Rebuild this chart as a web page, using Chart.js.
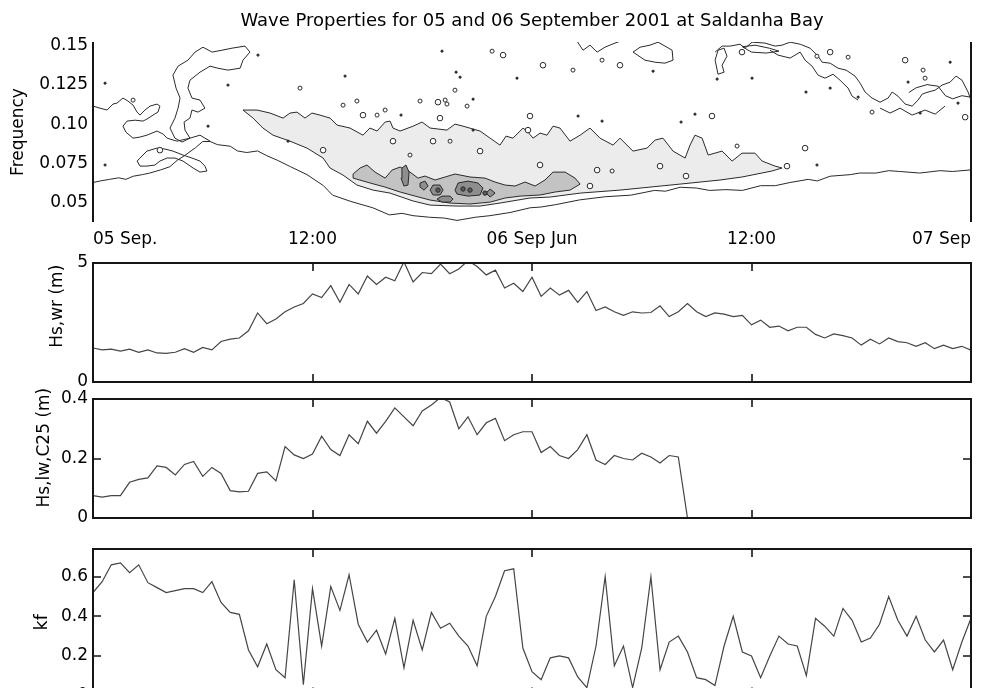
<!DOCTYPE html>
<html><head><meta charset="utf-8">
<script src="https://cdn.jsdelivr.net/npm/chart.js@4.4.1/dist/chart.umd.min.js"></script>
<style>
html,body{margin:0;padding:0;background:#fff;width:989px;height:688px;overflow:hidden;position:relative}
canvas{position:absolute;left:0}
</style></head><body>
<canvas id="c1" width="989" height="250" style="top:0px"></canvas>
<canvas id="c2" width="989" height="140" style="top:250px"></canvas>
<canvas id="c3" width="989" height="150" style="top:375px"></canvas>
<canvas id="c4" width="989" height="200" style="top:525px"></canvas>
<script>
// ---------------- data ----------------
const titleText = 'Wave Properties for 05 and 06 September 2001 at Saldanha Bay';
const timeTickHours = [0, 12, 24, 36, 48];
const timeTickLabels = ['05 Sep.', '12:00', '06 Sep Jun', '12:00', '07 Sep'];
const freqTicks = [0.05, 0.075, 0.10, 0.125, 0.15];
const freqTickLabels = ['0.05', '0.075', '0.10', '0.125', '0.15'];
const hsWrTicks = [0, 5];
const hsWrTickLabels = ['0', '5'];
const hsLwTicks = [0, 0.2, 0.4];
const hsLwTickLabels = ['0', '0.2', '0.4'];
const kfTicks = [0, 0.2, 0.4, 0.6];
const kfTickLabels = ['0', '0.2', '0.4', '0.6'];
const sampleStepHours = 0.5; // series sampled every 30 min from 05 Sep 00:00

const hsWr = [1.43,1.35,1.38,1.30,1.38,1.25,1.35,1.22,1.20,1.25,
  1.40,1.25,1.45,1.35,1.70,1.80,1.85,2.15,2.90,2.45,
  2.65,2.95,3.15,3.30,3.70,3.55,4.05,3.35,4.10,3.70,
  4.45,4.10,4.40,4.25,5.05,4.20,4.60,4.55,4.95,4.55,
  4.75,5.10,4.85,4.50,4.70,3.95,4.15,3.80,4.40,3.60,
  3.95,3.65,3.85,3.35,3.80,3.00,3.15,2.95,2.80,2.95,
  2.90,2.92,3.20,2.75,2.95,3.30,2.95,2.75,2.90,2.85,
  2.75,2.80,2.40,2.60,2.30,2.35,2.15,2.30,2.30,2.00,
  1.85,2.02,1.95,1.85,1.55,1.80,1.60,1.85,1.70,1.65,
  1.50,1.65,1.40,1.55,1.40,1.50,1.34];
const hsLw = [0.075,0.070,0.075,0.075,0.120,0.130,0.135,0.175,0.170,0.145,
  0.180,0.190,0.140,0.170,0.150,0.092,0.088,0.090,0.150,0.155,
  0.125,0.240,0.212,0.200,0.215,0.275,0.230,0.210,0.280,0.250,
  0.325,0.285,0.325,0.370,0.340,0.310,0.360,0.380,0.405,0.390,
  0.300,0.340,0.280,0.320,0.335,0.260,0.280,0.290,0.290,0.220,
  0.240,0.210,0.200,0.230,0.280,0.195,0.180,0.210,0.200,0.195,
  0.218,0.205,0.185,0.210,0.205,0,0,0,0,0,
  0,0,0,0,0,0,0,0,0,0,
  0,0,0,0,0,0,0,0,0,0,
  0,0,0,0,0,0,0];
const kf = [0.52,0.575,0.66,0.67,0.62,0.66,0.57,0.545,0.52,0.53,
  0.54,0.54,0.52,0.575,0.47,0.42,0.41,0.23,0.145,0.26,
  0.13,0.09,0.585,0.055,0.54,0.25,0.55,0.43,0.61,0.36,
  0.27,0.33,0.21,0.39,0.14,0.38,0.23,0.42,0.34,0.365,
  0.30,0.25,0.15,0.40,0.50,0.63,0.64,0.24,0.12,0.08,
  0.19,0.20,0.19,0.094,0.04,0.25,0.60,0.15,0.25,0.04,
  0.24,0.60,0.13,0.27,0.30,0.22,0.09,0.08,0.05,0.25,
  0.40,0.22,0.20,0.09,0.20,0.30,0.26,0.25,0.10,0.39,
  0.35,0.30,0.44,0.38,0.27,0.29,0.36,0.50,0.38,0.30,
  0.40,0.28,0.22,0.28,0.13,0.27,0.39];

// contour outlines, [hours, frequency]
const outerContour = [[0,0.063],[0.4,0.064],[0.9,0.065],[1.4,0.066],[1.8,0.065],[2.2,0.067],[2.7,0.068],[3.1,0.069],[3.7,0.071],[4.2,0.073],[4.6,0.077],[5.0,0.080],[5.6,0.085],[6.0,0.089],[6.4,0.089],[6.8,0.087],[7.5,0.086],[7.9,0.083],[8.4,0.082],[9.0,0.083],[9.5,0.080],[10.1,0.077],[10.8,0.073],[11.7,0.068],[12.6,0.061],[13.1,0.055],[14.1,0.051],[15.3,0.047],[16.2,0.0425],[16.9,0.0435],[17.5,0.042],[18.4,0.041],[19.2,0.0405],[19.9,0.039],[20.9,0.041],[21.7,0.042],[22.8,0.044],[23.9,0.047],[24.5,0.0475],[25.3,0.049],[26.6,0.052],[28.0,0.054],[29.4,0.055],[30.7,0.058],[31.3,0.0575],[32.1,0.060],[33.0,0.0595],[33.7,0.058],[34.6,0.0585],[35.5,0.058],[36.5,0.061],[37.3,0.061],[38.1,0.063],[39.1,0.065],[39.6,0.064],[40.3,0.067],[41.4,0.068],[41.9,0.069],[42.8,0.069],[43.5,0.0705],[44.1,0.070],[45.2,0.069],[46.3,0.0705],[47.0,0.070],[48,0.071]];
const lightBand = [[8.2,0.1089],[8.97,0.1089],[9.68,0.1070],[10.39,0.1038],[10.77,0.1070],[11.15,0.1076],[11.59,0.1038],[11.97,0.1070],[12.41,0.1057],[12.96,0.1038],[13.34,0.0994],[14.05,0.0975],[14.76,0.0930],[15.14,0.0975],[15.53,0.0956],[15.97,0.1013],[16.24,0.1019],[16.40,0.0975],[16.79,0.0956],[17.50,0.0987],[17.99,0.1013],[18.43,0.0975],[19.35,0.0962],[19.79,0.1000],[20.23,0.0987],[21.16,0.0956],[21.71,0.0911],[22.25,0.0867],[22.58,0.0924],[22.96,0.0911],[23.51,0.0975],[23.78,0.0949],[24.06,0.0911],[24.44,0.0943],[24.82,0.0930],[25.15,0.0987],[25.53,0.0975],[26.08,0.0892],[26.63,0.0930],[27.17,0.0975],[27.72,0.0911],[28.43,0.0867],[28.81,0.0911],[29.52,0.0829],[30.29,0.0848],[30.73,0.0899],[31.16,0.0911],[31.71,0.0829],[32.37,0.0785],[32.64,0.0867],[32.91,0.0930],[33.30,0.0911],[33.63,0.0804],[34.39,0.0829],[34.94,0.0766],[35.48,0.0816],[36.19,0.0816],[36.58,0.0766],[37.29,0.0734],[37.67,0.0722],[37.12,0.0703],[35.48,0.0665],[34.28,0.0646],[33.19,0.0633],[32.09,0.0620],[30.45,0.0601],[28.81,0.0582],[26.63,0.0563],[24.99,0.0538],[23.89,0.0532],[22.25,0.0500],[21.16,0.0481],[19.90,0.0481],[18.43,0.0487],[17.50,0.0513],[16.24,0.0563],[15.31,0.0582],[14.43,0.0614],[13.67,0.0677],[12.96,0.0722],[12.58,0.0785],[11.70,0.0848],[10.77,0.0892],[9.84,0.0930],[9.29,0.0975],[8.75,0.1038],[8.2,0.1089]];
const mediumBand = [[14.22,0.0684],[14.6,0.0722],[14.98,0.0741],[15.42,0.0696],[15.97,0.0658],[16.35,0.0709],[16.79,0.0728],[17.33,0.0696],[17.77,0.0658],[18.15,0.0671],[18.70,0.0646],[19.25,0.0665],[19.79,0.0684],[20.61,0.0665],[21.43,0.0658],[21.98,0.0633],[22.53,0.0614],[23.07,0.0608],[23.62,0.0633],[24.17,0.0608],[24.71,0.0646],[25.15,0.0696],[25.81,0.0696],[26.35,0.0658],[26.63,0.0620],[26.08,0.0582],[25.26,0.0570],[24.44,0.0551],[23.35,0.0544],[22.53,0.0532],[21.71,0.0506],[20.61,0.0494],[19.52,0.0500],[18.43,0.0519],[17.61,0.0544],[16.79,0.0570],[15.97,0.0601],[15.15,0.0627],[14.22,0.0658],[14.22,0.0684]];
const darkBlobA = [[19.79,0.0582],[19.96,0.0627],[20.50,0.0639],[21.05,0.0627],[21.32,0.0595],[21.16,0.0551],[20.50,0.0544],[19.90,0.0557],[19.79,0.0582]];
const darkBlobB = [[18.43,0.0582],[18.59,0.0614],[18.97,0.0614],[19.14,0.0582],[18.97,0.0551],[18.59,0.0551],[18.43,0.0582]];
const darkBlobC = [[18.81,0.0525],[19.08,0.0544],[19.52,0.0544],[19.68,0.0525],[19.52,0.0506],[19.08,0.0506],[18.81,0.0525]];
const darkBlobD = [[21.49,0.0563],[21.71,0.0589],[21.98,0.0563],[21.71,0.0538],[21.49,0.0563]];
const darkBlobE = [[16.89,0.0722],[17.11,0.0741],[17.28,0.0696],[17.22,0.0614],[17.00,0.0608],[16.84,0.0658],[16.89,0.0722]];
const darkBlobF = [[17.88,0.0627],[18.15,0.0639],[18.32,0.0608],[18.10,0.0582],[17.88,0.0601],[17.88,0.0627]];
const darkestSpots = [[20.23,0.0589],[20.61,0.0582],[18.86,0.0582],[21.43,0.0563]];
const leftCloud = [[0,0.1114],[0.38,0.1101],[0.77,0.1089],[1.09,0.1127],[1.31,0.1133],[1.64,0.1165],[1.91,0.1146],[2.19,0.1120],[2.41,0.1076],[2.57,0.1057],[2.84,0.1089],[3.12,0.1114],[3.50,0.1127],[3.66,0.1114],[3.55,0.1076],[3.28,0.1057],[2.95,0.1032],[2.73,0.1019],[2.30,0.1025],[1.86,0.1019],[1.64,0.0987],[1.80,0.0949],[2.19,0.0911],[2.57,0.0918],[2.95,0.0930],[3.50,0.0956],[3.83,0.0937],[4.05,0.0911],[4.59,0.0892],[5.30,0.0911],[5.85,0.0930],[6.12,0.0911],[6.40,0.0892]];
const lensLoop = [[2.41,0.0766],[2.73,0.0804],[2.95,0.0829],[3.50,0.0848],[3.94,0.0842],[4.37,0.0829],[4.92,0.0804],[5.41,0.0785],[5.85,0.0766],[6.12,0.0734],[6.23,0.0703],[5.85,0.0696],[5.47,0.0722],[4.92,0.0766],[4.48,0.0785],[4.05,0.0785],[3.66,0.0766],[3.39,0.0741],[2.95,0.0734],[2.57,0.0734],[2.41,0.0766]];
const columnLoop = [[4.37,0.131],[4.65,0.1367],[5.19,0.1405],[5.58,0.1456],[6.01,0.1487],[6.51,0.1456],[7.05,0.1468],[7.60,0.1481],[8.31,0.1494],[8.58,0.1456],[8.20,0.1405],[8.04,0.1354],[7.38,0.1342],[6.83,0.1354],[6.40,0.1367],[5.85,0.1329],[5.30,0.1278],[5.19,0.1228],[5.41,0.1165],[5.85,0.1152],[6.12,0.1101],[5.74,0.1076],[5.41,0.1089],[5.30,0.1038],[4.98,0.1013],[5.03,0.0962],[5.30,0.0911],[4.87,0.0886],[4.48,0.0911],[4.21,0.0975],[4.48,0.1038],[4.65,0.1101],[4.76,0.1165],[4.54,0.1228],[4.37,0.131]];
const midTopLoop = [[29.52,0.1456],[29.91,0.1487],[30.45,0.15],[30.89,0.1519],[31.27,0.1494],[31.66,0.1468],[31.71,0.1405],[31.27,0.1386],[30.73,0.1392],[30.18,0.1405],[29.52,0.1456]];
const topEdgeLine = [[26.46,0.1525],[26.79,0.1468],[27.17,0.15],[27.56,0.1456],[27.99,0.1487],[28.38,0.1506],[28.81,0.1525]];
const rightCloudA = [[34.01,0.1456],[34.39,0.1494],[34.83,0.1494],[35.37,0.1506],[35.65,0.1481],[36.03,0.1519],[36.74,0.1513],[37.29,0.1494],[37.67,0.15],[38.11,0.1519],[38.66,0.1506],[39.20,0.1481],[39.64,0.1430],[39.86,0.1392],[40.30,0.1386],[40.73,0.1354],[41.17,0.1342],[41.66,0.1304],[41.94,0.1259],[42.21,0.1203],[42.59,0.1165],[43.03,0.1139],[43.47,0.1165],[43.69,0.1203],[44.01,0.1177],[44.40,0.1127],[44.78,0.1114],[45.11,0.1152],[45.33,0.1190],[45.65,0.1203],[46.04,0.1215],[46.42,0.1247],[46.86,0.1266],[47.18,0.1304],[47.51,0.1278],[47.84,0.1203],[48,0.1152]];
const rightCloudB = [[37.01,0.1468],[37.45,0.1437],[38.11,0.1418],[38.66,0.1456],[38.93,0.1405],[39.31,0.1367],[39.64,0.131],[40.02,0.1291],[40.46,0.1316],[40.84,0.1278],[41.28,0.1228],[41.50,0.1177],[41.83,0.1152]];
const rightCloudC = [[34.01,0.1405],[34.17,0.1468],[34.50,0.1481],[34.66,0.1430],[34.39,0.1373],[34.50,0.1329],[34.17,0.1316],[34.01,0.1405]];
const rightCloudD = [[43.03,0.1101],[43.58,0.1070],[44.12,0.1101],[44.78,0.1057],[45.49,0.1089],[46.04,0.1063],[46.58,0.1114]];
const rightCloudE = [[35.5,0.1490],[36.2,0.1500],[37.0,0.1480],[37.5,0.1462],[36.8,0.1450],[36.0,0.1456],[35.5,0.1490]];
const rightCloudF = [[44.6,0.1200],[45.0,0.1230],[45.6,0.1250],[46.2,0.1240],[46.6,0.1180],[47.0,0.1160],[47.5,0.1180],[48,0.1170]];
const largeRings = [[3.66,0.0835],[14.76,0.1057],[12.58,0.0835],[22.42,0.1437],[24.60,0.1373],[18.86,0.1139],[18.97,0.1038],[23.89,0.1051],[23.78,0.0962],[28.81,0.1373],[16.40,0.0892],[18.59,0.0892],[21.16,0.0829],[24.44,0.0741],[27.56,0.0709],[27.17,0.0608],[31.0,0.0734],[35.48,0.1456],[40.30,0.1456],[44.40,0.1405],[47.68,0.1044],[33.84,0.1051],[38.93,0.0848],[32.42,0.0671],[37.94,0.0734]];
const smallRings = [[2.19,0.1152],[11.32,0.1228],[14.43,0.1146],[13.67,0.112],[15.53,0.1057],[21.82,0.1462],[19.79,0.1215],[20.45,0.1114],[19.25,0.1152],[17.88,0.1146],[19.35,0.1127],[15.97,0.1089],[26.24,0.1342],[27.83,0.1405],[17.33,0.0804],[19.52,0.0892],[28.38,0.0703],[39.58,0.1430],[41.28,0.1424],[45.38,0.1342],[45.49,0.1291],[42.59,0.1076],[35.21,0.0861]];
const contourDots = [[0.66,0.1259],[0.66,0.0741],[9.02,0.1437],[7.38,0.1247],[6.29,0.0987],[13.78,0.1304],[10.66,0.0892],[19.08,0.1462],[23.18,0.1291],[19.85,0.1329],[20.07,0.1297],[20.78,0.1158],[16.84,0.1057],[20.78,0.0962],[26.52,0.1051],[27.83,0.1019],[30.62,0.1335],[36.03,0.1291],[34.12,0.1285],[44.56,0.1266],[47.29,0.1133],[41.83,0.1171],[38.98,0.1203],[40.30,0.1228],[45.22,0.1070],[46.86,0.1392],[32.91,0.1063],[32.15,0.1013],[39.58,0.0741]];

// ---------------- chart setup ----------------
Chart.defaults.font.family = "'DejaVu Sans', sans-serif";
Chart.defaults.font.size = 17;
Chart.defaults.color = '#000';

const FONT = {family: "'DejaVu Sans', sans-serif", size: 17, weight: 'normal'};
const contourColor = '#2a2a2a';
const seriesColor = '#454545';

function xy(pts) { return pts.map(p => ({x: p[0], y: p[1]})); }
function series(vals) { return vals.map((v, i) => ({x: i * sampleStepHours, y: v})); }
function contour(pts, extra) {
  return Object.assign({data: xy(pts), showLine: true, pointRadius: 0, borderColor: contourColor,
    borderWidth: 1, tension: 0, fill: false, order: 5}, extra || {});
}
function marks(pts, r, extra) {
  return Object.assign({data: xy(pts), showLine: false, pointRadius: r, pointBackgroundColor: '#fff',
    pointBorderColor: contourColor, pointBorderWidth: 1, order: 1}, extra || {});
}
function makeFrame(o) {
  return {
    id: 'frame',
    afterDatasetsDraw(chart) {
      const {ctx, chartArea: a} = chart;
      const xs = chart.scales.x, ys = chart.scales.y;
      ctx.save();
      ctx.strokeStyle = '#151515';
      ctx.lineWidth = 2;
      ctx.beginPath();
      if (o.box) ctx.rect(a.left, a.top, a.right - a.left, a.bottom - a.top);
      if (o.sides) {
        ctx.moveTo(a.left, a.top); ctx.lineTo(a.left, a.bottom);
        ctx.moveTo(a.right, a.top); ctx.lineTo(a.right, a.bottom);
      }
      ctx.stroke();
      ctx.lineWidth = 1.6;
      ctx.beginPath();
      const L = 8;
      (o.xTicks || []).forEach(v => {
        const p = Math.round(xs.getPixelForValue(v));
        ctx.moveTo(p, a.top); ctx.lineTo(p, a.top + L);
        ctx.moveTo(p, a.bottom); ctx.lineTo(p, a.bottom - L);
      });
      (o.yTicks || []).forEach(v => {
        const p = Math.round(ys.getPixelForValue(v));
        ctx.moveTo(a.left, p); ctx.lineTo(a.left + L, p);
        ctx.moveTo(a.right, p); ctx.lineTo(a.right - L, p);
      });
      ctx.stroke();
      ctx.restore();
    }
  };
}
function yScale(min, max, ticks, labels, title, titlePad) {
  return {
    type: 'linear', min, max, position: 'left',
    grid: {display: false, drawTicks: false}, border: {display: false},
    ticks: {padding: 5, font: FONT, color: '#000', autoSkip: false,
      callback: (v, i) => labels[i]},
    afterBuildTicks: s => { s.ticks = ticks.map(v => ({value: v})); },
    afterFit: s => { s.width = 93; s.paddingTop = 0; s.paddingBottom = 0; },
    title: {display: true, text: title, font: FONT, color: '#000', padding: {top: titlePad, bottom: 0}}
  };
}
function hiddenX() {
  return {type: 'linear', min: 0, max: 48, display: false,
    afterFit: s => { s.height = 0; s.paddingLeft = 0; s.paddingRight = 0; }};
}
const baseOpts = {responsive: false, animation: false, events: [],
  plugins: {legend: {display: false}, tooltip: {enabled: false}}};

// Chart 1: contour of wave spectrum
new Chart(document.getElementById('c1'), {
  type: 'scatter',
  data: {datasets: [
    contour(lightBand, {fill: 'shape', backgroundColor: '#ececec', order: 10}),
    contour(mediumBand, {fill: 'shape', backgroundColor: '#c3c3c3', order: 9}),
    contour(darkBlobA, {fill: 'shape', backgroundColor: '#8e8e8e', order: 8}),
    contour(darkBlobB, {fill: 'shape', backgroundColor: '#8e8e8e', order: 8}),
    contour(darkBlobC, {fill: 'shape', backgroundColor: '#8e8e8e', order: 8}),
    contour(darkBlobD, {fill: 'shape', backgroundColor: '#8e8e8e', order: 8}),
    contour(darkBlobE, {fill: 'shape', backgroundColor: '#8e8e8e', order: 8}),
    contour(darkBlobF, {fill: 'shape', backgroundColor: '#8e8e8e', order: 8}),
    marks(darkestSpots, 2.2, {pointBackgroundColor: '#5a5a5a', order: 7}),
    contour(outerContour),
    contour(leftCloud),
    contour(lensLoop),
    contour(columnLoop),
    contour(midTopLoop),
    contour(topEdgeLine),
    contour(rightCloudA),
    contour(rightCloudB),
    contour(rightCloudC),
    contour(rightCloudD),
    contour(rightCloudE),
    contour(rightCloudF),
    marks(largeRings, 2.8),
    marks(smallRings, 2.0),
    marks(contourDots, 1.1, {pointBackgroundColor: contourColor})
  ]},
  options: Object.assign({}, baseOpts, {
    layout: {padding: {left: 0, right: 18, top: 0, bottom: 0}, autoPadding: false},
    plugins: {legend: {display: false}, tooltip: {enabled: false},
      title: {display: true, text: titleText, fullSize: false, color: '#000',
        font: {family: FONT.family, size: 18, weight: 'normal'}, padding: {top: 11, bottom: 9.4}}},
    scales: {
      x: {type: 'linear', min: 0, max: 48, position: 'bottom',
        grid: {display: false, drawTicks: false}, border: {display: false},
        ticks: {autoSkip: false, maxRotation: 0, align: 'inner', padding: 7, font: FONT, color: '#000',
          callback: (v, i) => timeTickLabels[i]},
        afterBuildTicks: s => { s.ticks = timeTickHours.map(v => ({value: v})); },
        afterFit: s => { s.height = 28; s.paddingLeft = 0; s.paddingRight = 0; }},
      y: yScale(0.038, 0.152, freqTicks, freqTickLabels, 'Frequency', 8.8)
    }
  }),
  plugins: [makeFrame({sides: true})]
});

function lineChart(id, vals, ymin, ymax, ticks, labels, title, titlePad, pad, frameTicks) {
  return new Chart(document.getElementById(id), {
    type: 'scatter',
    data: {datasets: [{data: series(vals), showLine: true, pointRadius: 0, borderColor: seriesColor,
      borderWidth: 1.2, tension: 0, fill: false}]},
    options: Object.assign({}, baseOpts, {
      layout: {padding: Object.assign({left: 0, right: 18}, pad), autoPadding: false},
      scales: {x: hiddenX(), y: yScale(ymin, ymax, ticks, labels, title, titlePad)}
    }),
    plugins: [makeFrame(Object.assign({box: true}, frameTicks))]
  });
}
lineChart('c2', hsWr, 0, 5, hsWrTicks, hsWrTickLabels, '      Hs,wr (m)', 47.8,
  {top: 13, bottom: 8}, {xTicks: [12, 24, 36]});
lineChart('c3', hsLw, 0, 0.4, hsLwTicks, hsLwTickLabels, '    Hs,lw,C25 (m)', 34.8,
  {top: 24, bottom: 7}, {xTicks: [12, 24, 36], yTicks: [0.2]});
lineChart('c4', kf, 0, 0.74, kfTicks, kfTickLabels, 'kf', 32.8,
  {top: 24, bottom: 29.5}, {xTicks: [12, 24, 36], yTicks: [0.2, 0.4, 0.6]});
</script>
</body></html>
